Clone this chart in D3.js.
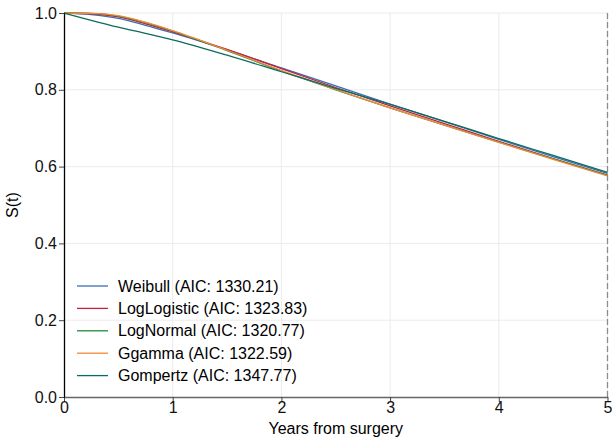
<!DOCTYPE html>
<html>
<head>
<meta charset="utf-8">
<script src="https://cdn.jsdelivr.net/npm/d3@7"></script>
<style>
  body { margin: 0; background: #fff; }
  svg { font-family: "Liberation Sans", Arial, sans-serif; }
  .grid line { stroke: #ebebeb; stroke-width: 1; }
  .axis text { font-size: 16px; fill: #111; }
</style>
</head>
<body>
<svg width="612" height="437"></svg>
<script>
// time points (years) and survival estimates
var times = [0, 0.25, 0.5, 0.75, 1, 1.5, 2, 2.5, 3, 3.5, 4, 4.5, 5];

var weibull     = [1, 0.996, 0.986, 0.968, 0.948, 0.904, 0.857, 0.810, 0.763, 0.717, 0.671, 0.626, 0.582];
var logLogistic = [1, 0.998, 0.990, 0.972, 0.951, 0.905, 0.855, 0.806, 0.758, 0.712, 0.666, 0.621, 0.578];
var logNormal   = [1, 0.999, 0.992, 0.975, 0.953, 0.902, 0.849, 0.800, 0.753, 0.708, 0.664, 0.620, 0.577];
var ggamma      = [1, 0.999, 0.993, 0.976, 0.954, 0.903, 0.850, 0.801, 0.753, 0.708, 0.663, 0.619, 0.576];
var gompertz    = [1, 0.981, 0.963, 0.947, 0.930, 0.890, 0.847, 0.804, 0.762, 0.718, 0.673, 0.629, 0.585];

var modelNames = ["Weibull", "LogLogistic", "LogNormal", "Ggamma", "Gompertz"];
var aic = ["1330.21", "1323.83", "1320.77", "1322.59", "1347.77"];
var colors = ["#3b6fb6", "#c8203a", "#1f8a3b", "#f28a3a", "#0c6b5e"];

var xTicks = [0, 1, 2, 3, 4, 5];
var yTicks = [0, 0.2, 0.4, 0.6, 0.8, 1.0];

var series = [weibull, logLogistic, logNormal, ggamma, gompertz];

var svg = d3.select("svg"),
    margin = {top: 13, right: 4.5, bottom: 40, left: 64},
    width = +svg.attr("width") - margin.left - margin.right,
    height = +svg.attr("height") - margin.top - margin.bottom;

var x = d3.scaleLinear().domain([0, 5]).range([0, width]);
var y = d3.scaleLinear().domain([0, 1]).range([height, 0]);

var g = svg.append("g")
    .attr("transform", "translate(" + margin.left + "," + margin.top + ")");

// grid
g.append("g").attr("class", "grid")
  .selectAll("line").data(xTicks.slice(1)).enter().append("line")
    .attr("x1", function(d) { return x(d); })
    .attr("x2", function(d) { return x(d); })
    .attr("y1", 0).attr("y2", height);

g.append("g").attr("class", "grid")
  .selectAll("line").data(yTicks.slice(1)).enter().append("line")
    .attr("x1", 0).attr("x2", width)
    .attr("y1", function(d) { return y(d); })
    .attr("y2", function(d) { return y(d); });

// dashed line at end of follow-up
g.append("line")
    .attr("x1", x(5)).attr("x2", x(5))
    .attr("y1", 0).attr("y2", height)
    .attr("stroke", "#8c8c8c")
    .attr("stroke-width", 1.3)
    .attr("stroke-dasharray", "6,3");

// curves
var line = d3.line()
    .curve(d3.curveMonotoneX)
    .x(function(d, i) { return x(times[i]); })
    .y(function(d) { return y(d); });

series.forEach(function(s, i) {
  g.append("path")
    .datum(s)
    .attr("fill", "none")
    .attr("stroke", colors[i])
    .attr("stroke-width", 1.3)
    .attr("d", line);
});

// axes
var xAxis = g.append("g")
    .attr("class", "axis")
    .attr("transform", "translate(0," + height + ")")
    .call(d3.axisBottom(x).tickValues(xTicks).tickFormat(d3.format("d")).tickSize(5).tickSizeOuter(0));
xAxis.select(".domain").attr("stroke", "#666").attr("stroke-width", 1.5);
xAxis.selectAll(".tick line").attr("stroke", "#444");
xAxis.selectAll("text").attr("y", 5).attr("dy", "0.71em");

var yAxis = g.append("g")
    .attr("class", "axis")
    .call(d3.axisLeft(y).tickValues(yTicks).tickFormat(d3.format(".1f")).tickSize(5).tickSizeOuter(0));
yAxis.select(".domain").attr("stroke", "#000").attr("stroke-width", 1.3);
yAxis.selectAll(".tick line").attr("stroke", "#444");
yAxis.selectAll("text").attr("x", -7);

// axis titles
svg.append("text")
    .attr("x", margin.left + width / 2)
    .attr("y", 434)
    .attr("text-anchor", "middle")
    .style("font-size", "16px")
    .text("Years from surgery");

svg.append("text")
    .attr("transform", "translate(18," + (margin.top + height / 2) + ") rotate(-90)")
    .attr("text-anchor", "middle")
    .style("font-size", "16px")
    .text("S(t)");

// legend
var legend = g.append("g").attr("transform", "translate(13," + (286 - margin.top) + ")");
modelNames.forEach(function(name, i) {
  var row = legend.append("g").attr("transform", "translate(0," + (i * 22.4) + ")");
  row.append("line")
    .attr("x1", 0).attr("x2", 31)
    .attr("stroke", colors[i])
    .attr("stroke-width", 1.3);
  row.append("text")
    .attr("x", 41)
    .attr("dy", "0.35em")
    .style("font-size", "16px")
    .text(name + " (AIC: " + aic[i] + ")");
});
</script>
</body>
</html>
